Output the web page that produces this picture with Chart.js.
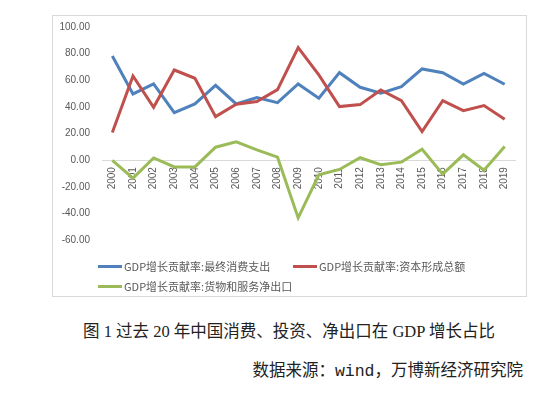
<!DOCTYPE html>
<html>
<head>
<meta charset="utf-8">
<script src="https://cdn.jsdelivr.net/npm/chart.js@4/dist/chart.umd.min.js"></script>
<style>
    html, body { margin: 0; padding: 0; background: #fff; }
    body { position: relative; width: 552px; height: 393px; overflow: hidden; }
    #chart-box {
        position: absolute; left: 52px; top: 15px; width: 475px; height: 282px;
        border: 1px solid #d9d9d9; box-sizing: border-box; pointer-events: none;
    }
    #chart { position: absolute; left: 52px; top: 15px; }
    .legend-item {
        position: absolute; display: flex; align-items: center; height: 14px;
        font: 11px "Noto Sans CJK SC", sans-serif; color: #595959; white-space: nowrap;
    }
    .legend-line { width: 24px; height: 3px; margin-right: 2px; }
    .caption {
        position: absolute; line-height: 20px; color: #222; white-space: pre; font-size: 16.5px;
    }
    #title { left: 78px; width: 422px; text-align: center; top: 322px;
             font-family: "Liberation Serif", "Noto Sans CJK SC", serif; }
    #source { right: 29px; top: 362px;
              font-family: "Liberation Mono", "Noto Sans CJK SC", monospace; }
</style>
</head>
<body>
<canvas id="chart" width="475" height="282"></canvas>
<div id="chart-box"></div>
<div id="legend"></div>
<div class="caption" id="title">图 1 过去 20 年中国消费、投资、净出口在 GDP 增长占比</div>
<div class="caption" id="source">数据来源：wind，万博新经济研究院</div>

<script>
// ==================== DATA ====================
const years = ['2000', '2001', '2002', '2003', '2004', '2005', '2006', '2007', '2008', '2009',
               '2010', '2011', '2012', '2013', '2014', '2015', '2016', '2017', '2018', '2019'];

const consumption = [78.2, 49.7, 57.2, 35.7, 42.2, 56.2, 42.2, 47.0, 43.2, 57.2,
                     46.5, 65.7, 54.7, 50.2, 55.2, 68.5, 65.7, 57.2, 65.2, 57.0];
const investment  = [20.7, 63.2, 39.7, 67.7, 61.5, 32.7, 42.0, 44.0, 53.0, 84.5,
                     64.0, 40.2, 41.7, 52.7, 44.7, 21.5, 44.7, 37.2, 41.0, 30.7];
const netExports  = [-0.2, -13.5, 1.6, -5.1, -5.1, 9.7, 13.7, 7.7, 2.2, -43.4,
                     -11.0, -7.0, 1.8, -3.5, -1.5, 8.2, -10.5, 4.0, -7.6, 10.2];

const seriesNames = ['GDP增长贡献率:最终消费支出', 'GDP增长贡献率:资本形成总额', 'GDP增长贡献率:货物和服务净出口'];
const yTicks = [-60, -40, -20, 0, 20, 40, 60, 80, 100];

// ==================== STYLE ====================
const COLORS = ['#4f81bd', '#c0504d', '#9bbb59'];
const TICK_COLOR = '#595959';
const AXIS_COLOR = '#d9d9d9';
const TICK_FONT = { family: '"Liberation Sans", Arial, sans-serif', size: 10 };

// ==================== CHART ====================
const ctx = document.getElementById('chart').getContext('2d');

const chart = new Chart(ctx, {
    type: 'line',
    data: {
        labels: years,
        datasets: [consumption, investment, netExports].map((values, i) => ({
            label: seriesNames[i],
            data: values,
            borderColor: COLORS[i],
            backgroundColor: COLORS[i],
            borderWidth: 3,
            tension: 0,
            pointRadius: 0,
            fill: false,
            order: 3 - i, // later series drawn on top, like Excel
        }))
    },
    options: {
        responsive: false,
        animation: false,
        layout: { padding: { left: 0, right: 12, top: 12, bottom: 57 } },
        plugins: {
            legend: { display: false },
            tooltip: { enabled: false }
        },
        scales: {
            x: {
                type: 'category',
                offset: true,
                position: { y: 0 },
                afterFit: scale => { scale.paddingLeft = 0; scale.paddingRight = 0; },
                grid: { display: false, drawTicks: false },
                border: { display: true, color: AXIS_COLOR, width: 1 },
                ticks: {
                    color: TICK_COLOR,
                    font: TICK_FONT,
                    minRotation: 90,
                    maxRotation: 90,
                    autoSkip: false,
                    padding: 7
                }
            },
            y: {
                min: yTicks[0],
                max: yTicks[yTicks.length - 1],
                afterBuildTicks: scale => { scale.ticks = yTicks.map(v => ({ value: v })); },
                afterFit: scale => {
                    scale.width = 50;
                    scale.paddingTop = 0;
                    scale.paddingBottom = 0;
                },
                grid: { display: false, drawTicks: false },
                border: { display: false },
                ticks: {
                    color: TICK_COLOR,
                    font: TICK_FONT,
                    padding: 12,
                    callback: v => Number(v).toFixed(2)
                }
            }
        }
    }
});

// ==================== LEGEND ====================
const legendSlots = [
    { left: 98, top: 259 },
    { left: 293, top: 259 },
    { left: 98, top: 279 }
];

document.getElementById('legend').innerHTML = chart.data.datasets.map((ds, i) => `
    <div class="legend-item" style="left:${legendSlots[i].left}px; top:${legendSlots[i].top}px;">
        <span class="legend-line" style="background:${ds.borderColor}"></span>${ds.label}
    </div>
`).join('');
</script>
</body>
</html>
